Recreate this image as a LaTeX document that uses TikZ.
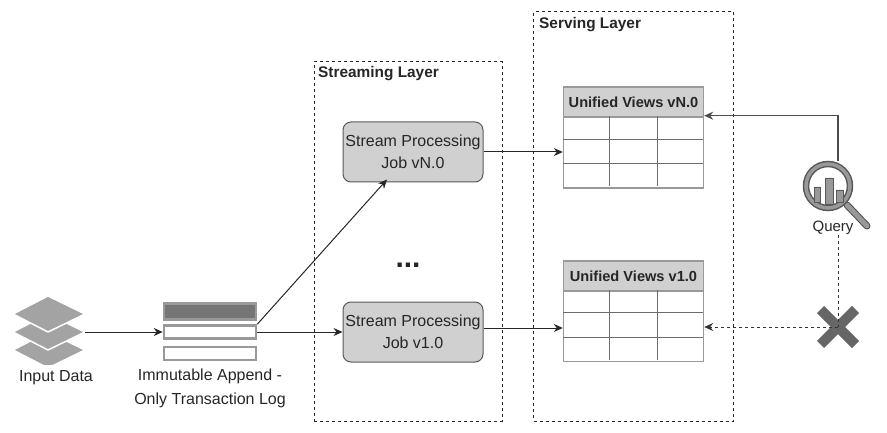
\documentclass[tikz,border=0pt]{standalone}
\usepackage{fontspec}
\setmainfont{Liberation Sans}
\usepackage{tikz}
\usetikzlibrary{arrows,arrows.meta,positioning}
\definecolor{boxgray}{HTML}{D0D0D0}
\definecolor{edgegray}{HTML}{999999}
\definecolor{markgray}{HTML}{666666}
\begin{document}
\begin{tikzpicture}[x=1pt, y=-1pt, >={Stealth[length=9pt,width=8pt]}]
\tikzstyle{every node} = [inner sep=0pt, font=\fontsize{16}{16}\selectfont, text=black!85]
\tikzstyle{layerbox} = [draw=black!85, dashed, line width=1pt]
\tikzstyle{layertitle} = [anchor=west, font=\fontsize{15.4}{15.4}\selectfont\bfseries]
\tikzstyle{job} = [draw=black!65, line width=1pt, fill=boxgray, rounded corners=8pt, minimum width=140pt, minimum height=60pt, align=center, text=black!85]
\tikzstyle{logbar} = [draw=edgegray, line width=2.6pt, fill=white, minimum width=92pt]
\tikzstyle{viewhead} = [draw=edgegray, line width=1.4pt, fill=boxgray, minimum width=140pt, minimum height=30pt, font=\fontsize{14.6}{14.6}\selectfont\bfseries]
\tikzstyle{viewbody} = [draw=edgegray, line width=1.4pt, fill=white, minimum width=140pt, minimum height=71pt]
\tikzstyle{layer} = [fill=edgegray!90, draw=white, line width=1.5pt, line join=round]
\tikzstyle{flow} = [->, line width=1pt, black!85]
\tikzstyle{lost} = [black!80, line width=1pt, dashed]
\useasboundingbox (0,0) rectangle (887,433);
% layer frames
\node[layerbox, minimum width=188pt, minimum height=359pt] (streaming) at (408,241.5) {};
\node[layerbox, minimum width=200pt, minimum height=409pt] (serving) at (633.5,216.5) {};
\node[layertitle] (streamingt) at (318,74) {Streaming Layer};
\node[layertitle] (servingt) at (539,25) {Serving Layer};
% input stack
\draw[layer] (13,350) -- (48,332) -- (85,350) -- (48,368) -- cycle;
\fill[white] (10,365) rectangle (90,372);
\draw[layer] (13,332) -- (48,314) -- (85,332) -- (48,350) -- cycle;
\draw[layer] (13,314) -- (48,296) -- (85,314) -- (48,332) -- cycle;
\coordinate (input) at (85,332);
\node (inputt) at (56,378) {Input Data};
% log
\node[logbar, fill=markgray!90, minimum height=16pt] (logtop) at (210,311.5) {};
\node[logbar, minimum height=13pt] (logmid) at (210,332) {};
\node[logbar, minimum height=13pt] (logbot) at (210,353.5) {};
\node (logt) at (210,376) {Immutable Append -};
\node (logtt) at (210,400) {Only Transaction Log};
\draw[flow] (input) -- (logmid.west);
% jobs
\node[job] (jobn) at (413,152) {Stream Processing\\[6pt]Job vN.0};
\node[job] (jobone) at (413,332) {Stream Processing\\[6pt]Job v1.0};
\node[font=\fontsize{30}{30}\selectfont\bfseries] (dots) at (408,265) {...};
\draw[flow] (logmid.north east) -- ([xshift=-26pt, yshift=3pt]jobn.south);
\draw[flow] (logmid.east) -- (jobone.west);
% tables
\node[viewbody] (bodyn) at (633.5,152.5) {};
\node[viewhead] (headn) at (633.5,102) {Unified Views vN.0};
\node[viewbody] (bodyone) at (633.5,326) {};
\node[viewhead] (headone) at (633.5,276) {Unified Views v1.0};
\draw[edgegray!70!black] (bodyn.north west)++(0,22.5) -- ++(140,0) ++(-140,24) -- ++(140,0)
	(bodyone.north west)++(0,22) -- ++(140,0) ++(-140,25) -- ++(140,0);
\draw[edgegray!70!black] (bodyn.north west)++(46,0) -- ++(0,70) ++(48,-70) -- ++(0,70)
	(bodyone.north west)++(46,0) -- ++(0,70) ++(48,-70) -- ++(0,70);
\draw[flow] (jobn.east) -- (jobn.east -| bodyn.west);
\draw[flow] (jobone.east) ++(0,-4) coordinate (jobonef) -- (jobonef -| bodyone.west);
% query
\coordinate (lens) at (828,186);
\draw[black!70, line width=7pt, line cap=round] (847,205) -- (867,226);
\draw[edgegray, line width=5pt, line cap=round] (847,205) -- (867,226);
\draw[black!65, fill=white, line width=6.5pt] (lens) circle (22pt);
\draw[edgegray, line width=3.5pt] (lens) circle (22pt);
\draw[black!65, fill=edgegray] (814,187) rectangle (820,202) (825,178) rectangle (833,204) (836,190) rectangle (843,202);
\node[font=\fontsize{15}{15}\selectfont] (queryt) at (833,228) {Query};
\draw[->, line width=1.2pt, black!70] (838,161) |- ([yshift=2pt]headn.south east);
% cross
\coordinate (cross) at (838,327);
\draw[markgray, line width=10pt] (820.5,309.5) -- (855.5,344.5) (855.5,309.5) -- (820.5,344.5);
\draw[lost] (queryt.south -| cross) -- (cross);
\draw[lost, ->] (cross) -- (cross -| bodyone.east);
\end{tikzpicture}
\end{document}
